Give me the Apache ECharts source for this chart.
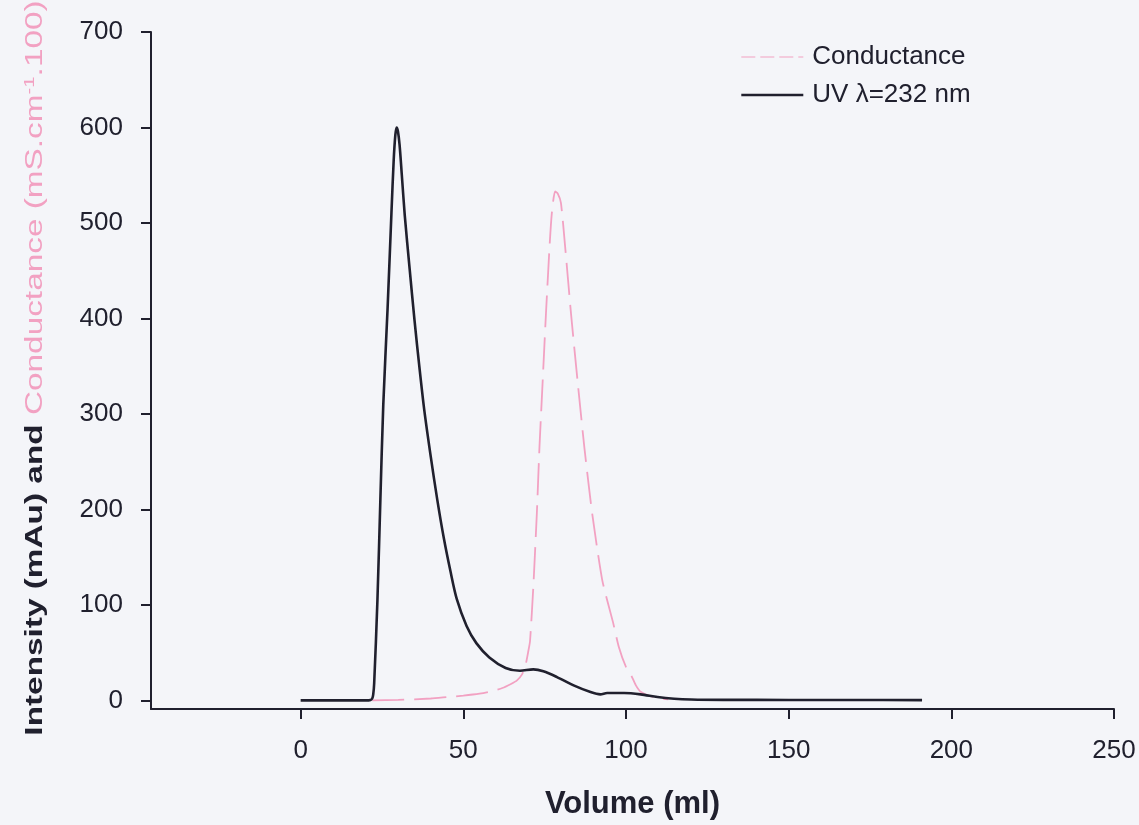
<!DOCTYPE html>
<html>
<head>
<meta charset="utf-8">
<title>Elution profile</title>
<script src="https://cdn.jsdelivr.net/npm/echarts@6/dist/echarts.min.js"></script>
<style>
  html, body { margin: 0; padding: 0; background: #f4f5f9; }
  #chart { width: 1139px; height: 825px; }
</style>
</head>
<body>
<div id="chart"></div>
<script>
// Elution volume (ml) vs. signal
const xTicks = [0, 50, 100, 150, 200, 250];
const yTicks = [0, 100, 200, 300, 400, 500, 600, 700];

// Conductance trace (mS.cm-1 x100), [volume, value]
const conductanceVolume = [22, 30, 40, 45, 50, 55, 58, 62, 64.5, 66.5, 68, 69, 70, 70.5, 71.5, 72.6, 73.4, 74.4, 75.4, 76.5, 77.2, 78.2, 79, 80, 81.3, 83.1, 85.1, 87.2, 89.6, 92.7, 96, 97.8, 100, 101.5, 103, 104.5, 107, 110, 113];
const conductanceValue  = [0, 0.5, 2, 3.5, 5, 7, 9, 13, 17, 21, 27, 35, 52, 62, 118, 196, 265, 335, 405, 475, 510, 533, 531, 521, 475, 405, 335, 265, 196, 126, 82, 56, 35, 27, 16, 9, 5, 2.5, 1];

// UV absorbance at 232 nm (mAu), [volume, value]
const uvVolume = [0, 5, 10, 15, 20, 21.5, 22, 22.3, 22.6, 23.6, 24.5, 25.4, 26.7, 27.9, 28.6, 29.1, 29.5, 29.9, 30.4, 31.1, 32, 33.5, 35, 36.5, 38, 40, 42, 44, 46, 48, 51, 54, 58, 63, 67.4, 71.5, 74.6, 78.8, 83.9, 89.1, 92.1, 94.2, 99.4, 104.5, 109.7, 114.8, 120, 130, 150, 170, 191];
const uvValue  = [0, 0, 0, 0, 0, 0.5, 2, 6, 18, 105, 210, 310, 409, 510, 566, 592, 600, 596, 582, 550, 508, 452, 398, 349, 304, 255, 210, 170, 136, 106, 78, 60, 45, 34, 31, 32.5, 30.5, 24.4, 15.7, 8.7, 6.3, 7.7, 7.7, 6.3, 3.5, 1.8, 1.0, 0.6, 0.5, 0.4, 0.3];

const pair = (xs, ys) => xs.map((x, i) => [x, ys[i]]);

const ink = '#20202e';
const pink = '#f2a1c2';
const labelFont = 'Arial, "Liberation Sans", Helvetica, sans-serif';

const chart = echarts.init(document.getElementById('chart'), null, { renderer: 'canvas' });

chart.setOption({
  backgroundColor: '#f4f5f9',
  animation: false,
  grid: { left: 151, right: 25, top: 32, bottom: 114, containLabel: false },
  legend: {
    orient: 'vertical',
    left: 735,
    top: 39,
    itemWidth: 62,
    itemHeight: 14,
    itemGap: 12,
    itemStyle: { opacity: 0 },
    data: [
      { name: 'Conductance', lineStyle: { width: 1.2, type: [14, 5] } },
      { name: 'UV λ=232 nm', lineStyle: { width: 2.6 } }
    ],
    textStyle: { fontFamily: labelFont, fontSize: 26, color: ink, lineHeight: 26, padding: [0, 0, 0, 4] }
  },
  xAxis: {
    type: 'value',
    min: -46,
    max: 250,
    name: 'Volume (ml)',
    nameLocation: 'middle',
    nameGap: 80,
    nameTextStyle: { fontFamily: labelFont, fontSize: 31, fontWeight: 'bold', color: ink },
    axisLine: { onZero: false, lineStyle: { color: ink, width: 2 } },
    axisTick: { customValues: xTicks, length: 10, lineStyle: { color: ink, width: 2 } },
    axisLabel: { customValues: xTicks, margin: 29, fontFamily: labelFont, fontSize: 26, color: ink },
    splitLine: { show: false }
  },
  yAxis: {
    type: 'value',
    min: -9,
    max: 700,
    axisLine: { show: true, onZero: false, lineStyle: { color: ink, width: 2 } },
    axisTick: { customValues: yTicks, length: 10, lineStyle: { color: ink, width: 2 } },
    axisLabel: { customValues: yTicks, margin: 28, fontFamily: labelFont, fontSize: 26, color: ink },
    splitLine: { show: false }
  },
  graphic: [{
    type: 'text',
    x: 36,
    y: 368,
    rotation: Math.PI / 2,
    scaleX: 1.45,
    style: {
      text: '{a|Intensity (mAu) and }{b|Conductance (mS.cm}{s|-1}{b|.100)}',
      align: 'center',
      verticalAlign: 'middle',
      rich: {
        a: { fontFamily: labelFont, fontSize: 23, fontWeight: 'bold', fill: ink },
        b: { fontFamily: labelFont, fontSize: 23, fill: pink },
        s: { fontFamily: labelFont, fontSize: 14, fill: pink, padding: [0, 0, 12, 0] }
      }
    }
  }],
  series: [
    {
      name: 'Conductance',
      type: 'line',
      data: pair(conductanceVolume, conductanceValue),
      showSymbol: false,
      symbol: 'none',
      smooth: 0.2,
      itemStyle: { color: pink },
      lineStyle: { color: pink, width: 1.8, type: [32, 10] }
    },
    {
      name: 'UV λ=232 nm',
      type: 'line',
      data: pair(uvVolume, uvValue),
      showSymbol: false,
      symbol: 'none',
      smooth: 0.3,
      itemStyle: { color: ink },
      lineStyle: { color: ink, width: 2.6 }
    }
  ]
});
</script>
</body>
</html>
